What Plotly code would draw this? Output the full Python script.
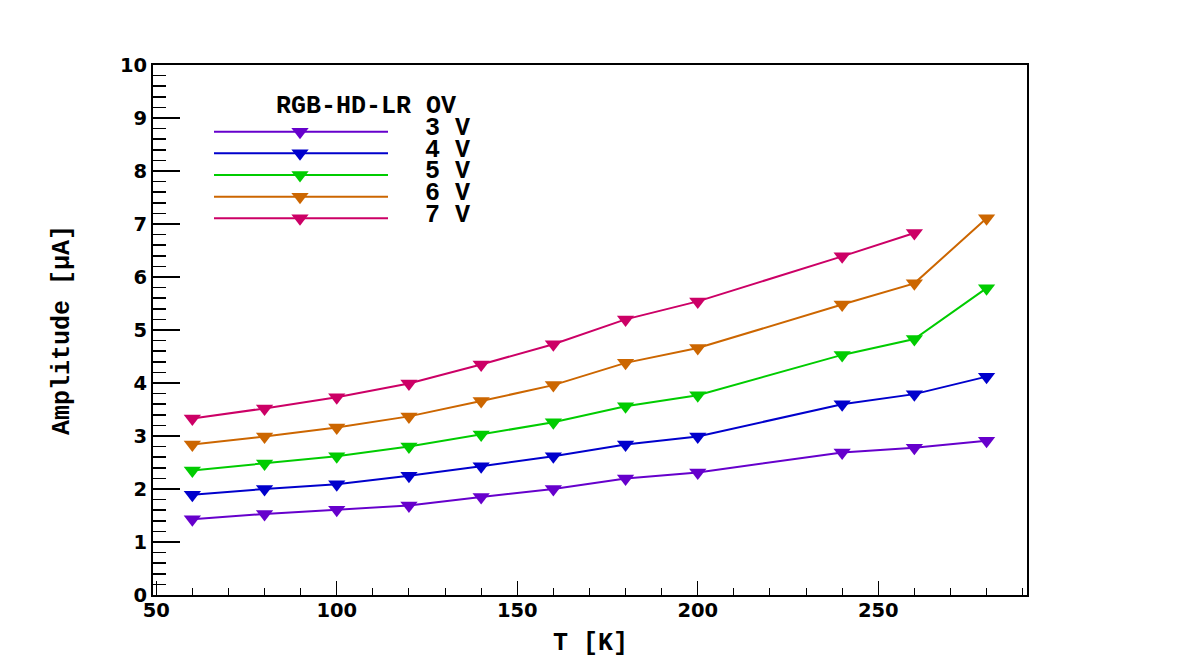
import plotly.graph_objects as go

# ---- data ----
T = [60, 80, 100, 120, 140, 160, 180, 200, 240, 260, 280]
amp_3V = [1.43, 1.53, 1.61, 1.69, 1.85, 2.00, 2.20, 2.31, 2.69, 2.78, 2.91]
amp_4V = [1.89, 2.00, 2.09, 2.25, 2.43, 2.62, 2.84, 2.99, 3.60, 3.79, 4.12]
amp_5V = [2.35, 2.48, 2.62, 2.80, 3.03, 3.26, 3.56, 3.77, 4.53, 4.83, 5.79]
amp_6V = [2.84, 2.99, 3.16, 3.37, 3.66, 3.96, 4.38, 4.66, 5.48, 5.88, 7.11]
T_7V = [60, 80, 100, 120, 140, 160, 180, 200, 240, 260]
amp_7V = [3.33, 3.52, 3.73, 3.99, 4.35, 4.73, 5.20, 5.54, 6.39, 6.83]

series_names = ["3 V", "4 V", "5 V", "6 V", "7 V"]
series_x = [T, T, T, T, T_7V]
series_y = [amp_3V, amp_4V, amp_5V, amp_6V, amp_7V]
colors = ["#6600CC", "#0000CC", "#00CC00", "#CC6600", "#CC0066"]
legend_title = "RGB-HD-LR OV"

W, H = 1182, 663
L, R, TOP, B = 153, 155, 65, 68
pw, ph = W - L - R, H - TOP - B
MK = 15  # marker size
X_RANGE = [49.1, 291.2]
Y_RANGE = [0, 10]


def px2fx(px):
    return (px - L) / pw


def py2fy(py):
    return (H - B - py) / ph


mono = dict(family="Liberation Mono", size=25, color="black", weight="bold")
sans = dict(family="DejaVu Sans", size=19.5, color="black", weight="bold")

fig = go.Figure()
for name, xs, ys, c in zip(series_names, series_x, series_y, colors):
    fig.add_trace(go.Scatter(
        x=xs, y=ys, mode="lines+markers", name=name,
        line=dict(color=c, width=2),
        marker=dict(symbol="triangle-down", size=MK, color=c, line=dict(width=0)),
        showlegend=False,
    ))

shapes = []
annotations = []

# ---- custom legend (ROOT style) ----
leg_x0, leg_x1, leg_xm, leg_text_x = 214, 388, 300, 423
leg_y0, leg_dy = 131.7, 21.65
r = MK / 2.0
rt = r * 2 / 3 ** 0.5
rs = r / 2
tri_path = f"M {-rt:.2f},{rs:.2f} L {rt:.2f},{rs:.2f} L 0,{-r:.2f} Z"
for i, (name, c) in enumerate(zip(series_names, colors)):
    yy = leg_y0 + i * leg_dy
    shapes.append(dict(type="line", xref="paper", yref="paper",
                       x0=px2fx(leg_x0), x1=px2fx(leg_x1),
                       y0=py2fy(yy), y1=py2fy(yy),
                       line=dict(color=c, width=2)))
    shapes.append(dict(type="path", xref="paper", yref="paper",
                       xsizemode="pixel", ysizemode="pixel",
                       xanchor=px2fx(leg_xm), yanchor=py2fy(yy),
                       path=tri_path, fillcolor=c, line=dict(width=0)))
    annotations.append(dict(text=name, xref="paper", yref="paper",
                            x=px2fx(leg_text_x), y=py2fy(yy - 3),
                            xanchor="left", yanchor="middle",
                            showarrow=False, font=mono))
annotations.append(dict(text=legend_title, xref="paper", yref="paper",
                        x=px2fx(365.5), y=py2fy(106.3),
                        xanchor="center", yanchor="middle",
                        showarrow=False, font=mono))

# axis titles
annotations.append(dict(text="T [K]", xref="paper", yref="paper",
                        x=0.5, y=py2fy(643), xanchor="center", yanchor="middle",
                        showarrow=False, font=mono))
annotations.append(dict(text="Amplitude [μA]", xref="paper", yref="paper",
                        x=px2fx(62), y=py2fy(330), xanchor="center", yanchor="middle",
                        textangle=-90, showarrow=False, font=mono))

fig.update_layout(
    width=W, height=H,
    margin=dict(l=L, r=R, t=TOP, b=B, pad=0),
    paper_bgcolor="white", plot_bgcolor="white",
    showlegend=False, dragmode=False,
    shapes=shapes, annotations=annotations,
    xaxis=dict(range=X_RANGE, showgrid=False, zeroline=False,
               showline=True, linecolor="black", linewidth=2, mirror=True,
               ticks="inside", ticklen=14, tickwidth=1, tickcolor="black",
               tick0=50, dtick=50, tickfont=sans, ticklabelstandoff=-3,
               minor=dict(ticks="inside", ticklen=7, dtick=10, tick0=50,
                          tickcolor="black", tickwidth=1, showgrid=False)),
    yaxis=dict(range=Y_RANGE, showgrid=False, zeroline=False,
               showline=True, linecolor="black", linewidth=2, mirror=True,
               ticks="inside", ticklen=27, tickwidth=1.5, tickcolor="black",
               tick0=0, dtick=1, tickfont=sans, ticklabelstandoff=0,
               minor=dict(ticks="inside", ticklen=13, dtick=0.2,
                          tickcolor="black", tickwidth=1.5, showgrid=False)),
)

fig.write_html("out.html", config={"staticPlot": True})
